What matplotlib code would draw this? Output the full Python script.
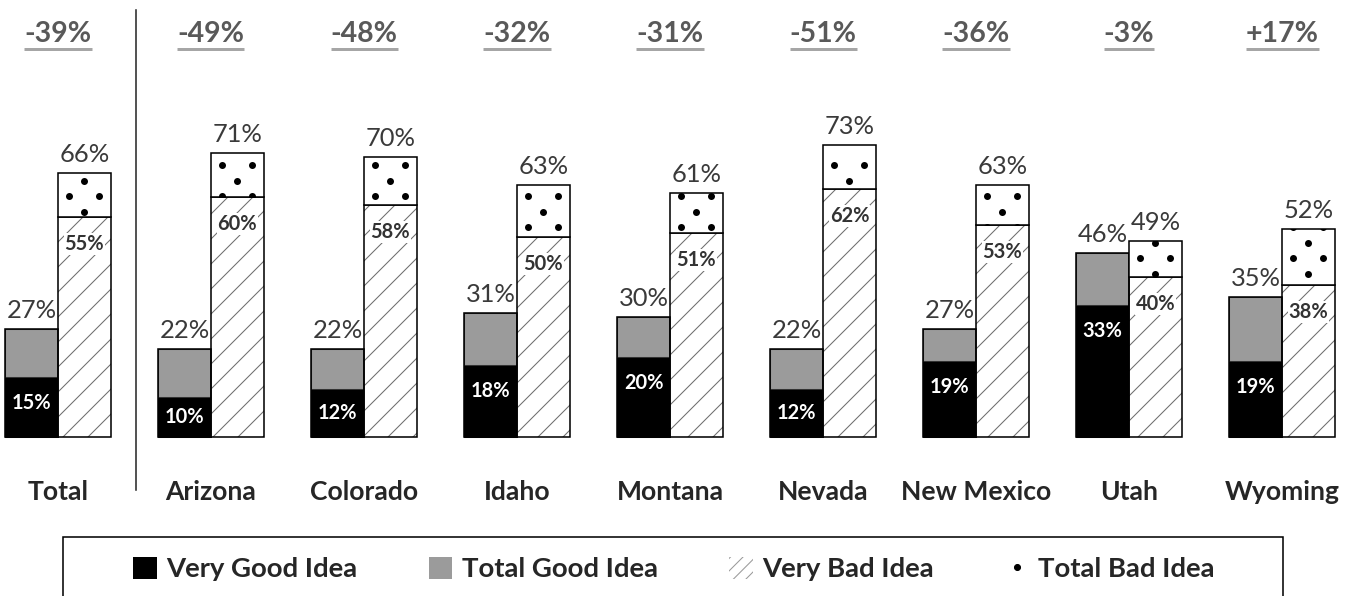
import numpy as np
import matplotlib
matplotlib.use('Agg')
import matplotlib.pyplot as plt
from matplotlib.patches import Patch, Rectangle
from matplotlib.lines import Line2D

categories = ["Total", "Arizona", "Colorado", "Idaho", "Montana", "Nevada",
              "New Mexico", "Utah", "Wyoming"]
very_good = [15, 10, 12, 18, 20, 12, 19, 33, 19]
total_good = [27, 22, 22, 31, 30, 22, 27, 46, 35]
very_bad = [55, 60, 58, 50, 51, 62, 53, 40, 38]
total_bad = [66, 71, 70, 63, 61, 73, 63, 49, 52]
net_change = ["-39%", "-49%", "-48%", "-32%", "-31%", "-51%", "-36%", "-3%", "+17%"]
legend_labels = ["Very Good Idea", "Total Good Idea", "Very Bad Idea", "Total Bad Idea"]

DPI = 75
W, H = 1361, 596
plt.rcParams['font.family'] = ['Lato', 'DejaVu Sans']
plt.rcParams['hatch.linewidth'] = 1.0


def pt(px):
    return px * 72.0 / DPI


fig = plt.figure(figsize=(W / DPI, H / DPI), dpi=DPI)
ax = fig.add_axes([0, 0, 1, 1])
ax.set_xlim(-0.379, 8.516)
ax.set_ylim(-39.75, 109.25)
ax.axis('off')

x = np.arange(len(categories))
w = 0.345
xg = x - w / 2
xb = x + w / 2
vg = np.array(very_good)
tg = np.array(total_good)
vb = np.array(very_bad)
tb = np.array(total_bad)

gray = '#9b9b9b'
hatch_gray = '#6e6e6e'

# good stack
ax.bar(xg, vg, w, color='black', edgecolor='black', lw=1.0, zorder=2)
ax.bar(xg, tg - vg, w, bottom=vg, color=gray, edgecolor='#333333', lw=1.0, zorder=2)
ax.bar(xg, tg, w, fill=False, edgecolor='black', lw=1.5, zorder=3)

# bad stack
ax.bar(xb, vb, w, color='white', edgecolor=hatch_gray, lw=0, hatch='/', zorder=2)
ax.bar(xb, vb, w, fill=False, edgecolor='black', lw=1.5, zorder=3)
dot_bars = ax.bar(xb, tb - vb, w, bottom=vb, color='white', edgecolor='black',
                  lw=1.5, zorder=3)

# dot pattern inside the Total Bad Idea segments
px_x = 153.0   # pixels per x unit
px_y = 4.0     # pixels per y unit
for rect in dot_bars:
    x0 = rect.get_x()
    y0 = rect.get_y()
    y1 = y0 + rect.get_height()
    cols_lr = x0 + np.array([11, 41]) / px_x
    cols_c = x0 + np.array([26]) / px_x
    rows_lr = np.arange(68.0, -10, -31 / px_y)
    rows_c = rows_lr - 15.5 / px_y
    pts = []
    for r in rows_lr:
        if y0 - 2 < r < y1 + 2:
            pts += [(c, r) for c in cols_lr]
    for r in rows_c:
        if y0 - 2 < r < y1 + 2:
            pts += [(c, r) for c in cols_c]
    if pts:
        pts = np.array(pts)
        sc = ax.scatter(pts[:, 0], pts[:, 1], s=45, color='black', zorder=4,
                        linewidths=0)
        sc.set_clip_path(rect)

# value labels
lab_col = '#3a3a3a'
for i in range(len(categories)):
    ax.annotate(f"{tg[i]}%", (xg[i], tg[i]), xytext=(0, pt(7)),
                textcoords='offset points', ha='center', va='bottom',
                fontsize=pt(25.5), color=lab_col, zorder=5)
    ax.annotate(f"{tb[i]}%", (xb[i], tb[i]), xytext=(0, pt(7)),
                textcoords='offset points', ha='center', va='bottom',
                fontsize=pt(25.5), color=lab_col, zorder=5)
    ax.text(xg[i], max(vg[i] - 6.5, vg[i] / 2), f"{vg[i]}%", ha='center',
            va='center', color='white', fontsize=pt(20), fontweight='bold', zorder=5)
    ax.text(xb[i], vb[i] - 6.75, f"{vb[i]}%", ha='center', va='center',
            color='#333333', fontsize=pt(20), fontweight='bold', zorder=5,
            bbox=dict(facecolor='white', edgecolor='none', pad=0.5))
    ax.text(x[i], -13.75, categories[i], ha='center', va='center',
            color='#262626', fontsize=pt(26.5), fontweight='bold')

change_texts = []
for i in range(len(categories)):
    t = ax.text(x[i], 100.8, net_change[i], ha='center', va='center',
                color='#595959', fontsize=pt(28.5), fontweight='bold')
    change_texts.append(t)

# divider between Total and the states
ax.plot([0.51, 0.51], [106.75, -13.25], color='#262626', lw=1.5)

# legend
handles = [Patch(facecolor='black', edgecolor='none'),
           Patch(facecolor=gray, edgecolor='none'),
           Patch(facecolor='white', edgecolor='#9a9a9a', lw=0, hatch='//'),
           Line2D([], [], marker='o', ls='none', color='black', markersize=pt(6))]
leg = fig.legend(handles, legend_labels, loc='center',
                 bbox_to_anchor=(674 / W, 1 - 569 / H), ncol=4, frameon=False,
                 prop={'size': pt(27.5), 'weight': 'bold'},
                 handlelength=0.85, handleheight=0.85, handletextpad=0.35,
                 columnspacing=2.6)
for t in leg.get_texts():
    t.set_color('#262626')
fig.add_artist(Rectangle((63 / W, -0.1), 1220 / W, (596 - 537) / H + 0.1,
                         transform=fig.transFigure, fill=False,
                         edgecolor='black', lw=1.5))

# underline for the change labels
fig.canvas.draw()
renderer = fig.canvas.get_renderer()
inv = ax.transData.inverted()
for t in change_texts:
    bb = t.get_window_extent(renderer)
    (xa, _), (xz, _) = inv.transform([(bb.x0, bb.y0), (bb.x1, bb.y1)])
    ax.plot([xa, xz], [97.0, 97.0], color='#a6a6a6', lw=pt(3), solid_capstyle='butt')

fig.savefig('out.png', dpi=DPI)
